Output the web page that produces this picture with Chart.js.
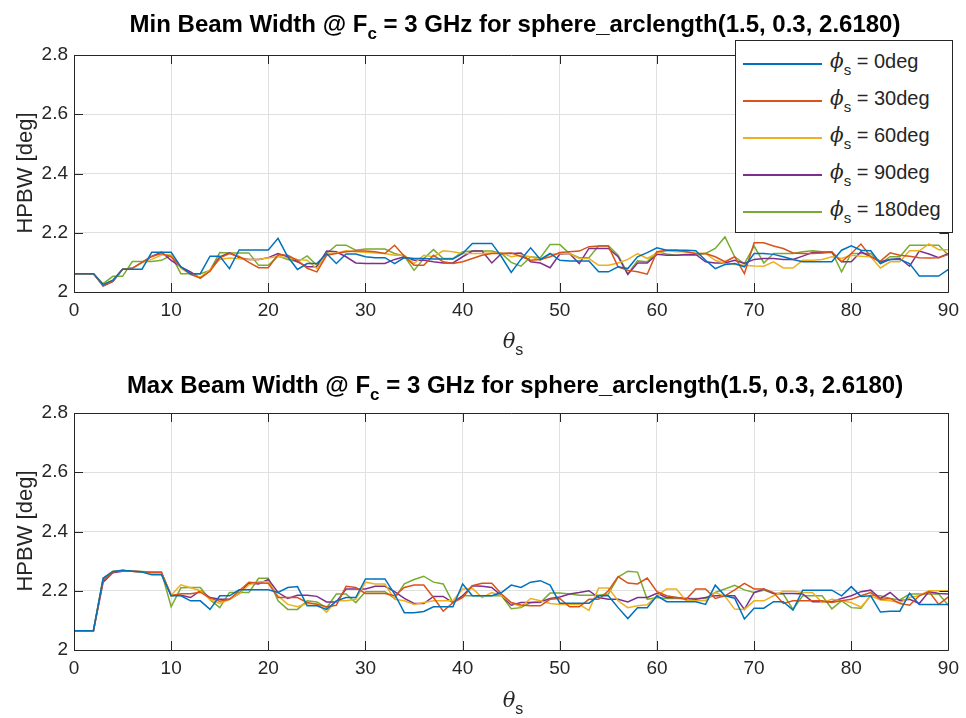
<!DOCTYPE html>
<html>
<head>
<meta charset="utf-8">
<script src="https://cdn.jsdelivr.net/npm/chart.js@4/dist/chart.umd.min.js"></script>
<style>
  body { margin: 0; background: #fff; font-family: "Liberation Sans", Arial, sans-serif; color: #262626; }
  #page { position: relative; width: 966px; height: 718px; overflow: hidden; }
  canvas { position: absolute; left: 0; }
  .title { position: absolute; left: 0; width: 1030px; text-align: center; font-weight: bold; font-size: 24px; line-height: 28px; color: #000; white-space: nowrap; }
  .title sub { font-size: 17px; vertical-align: -7px; line-height: 0; }
  .xlab { position: absolute; left: 0; width: 1026px; text-align: center; font-size: 22px; line-height: 26px; }
  .xlab i { font-family: "DejaVu Serif", serif; font-size: 21px; }
  .xlab sub { font-size: 16px; vertical-align: -7px; line-height: 0; }
  .ylab { position: absolute; font-size: 22px; line-height: 26px; transform: rotate(-90deg); transform-origin: center; white-space: nowrap; width: 200px; text-align: center; }
  #legend { position: absolute; left: 735px; top: 40px; width: 216px; height: 191px; border: 1px solid #262626; background: #fff; }
  .entry { position: absolute; left: 7px; width: 205px; height: 30px; font-size: 20px; white-space: nowrap; }
  .entry span.ln { position: absolute; left: 0; top: 15px; width: 79px; height: 2px; }
  .entry span.tx { position: absolute; left: 87px; top: 1px; }
  .entry i { font-family: "DejaVu Serif", serif; font-size: 20px; }
  .entry sub { font-size: 15px; vertical-align: -7px; line-height: 0; }
</style>
</head>
<body>
<div id="page">
  <canvas id="minChart" width="966" height="359" style="top:0"></canvas>
  <canvas id="maxChart" width="966" height="359" style="top:358px"></canvas>
  <div class="title" style="top:10px">Min Beam Width @ F<sub>c</sub> = 3 GHz for sphere_arclength(1.5, 0.3, 2.6180)</div>
  <div class="title" style="top:371px">Max Beam Width @ F<sub>c</sub> = 3 GHz for sphere_arclength(1.5, 0.3, 2.6180)</div>
  <div class="xlab" style="top:328px"><i>θ</i><sub>s</sub></div>
  <div class="xlab" style="top:687px"><i>θ</i><sub>s</sub></div>
  <div class="ylab" style="left:-75px; top:160px">HPBW [deg]</div>
  <div class="ylab" style="left:-75px; top:518px">HPBW [deg]</div>
  <div id="legend"></div>
</div>
<script>
// steering angle theta_s in degrees
const theta = [
  0,1,2,3,4,5,6,7,8,9,10,11,12,13,14,15,16,17,18,19,20,21,22,23,24,25,26,27,28,29,
  30,31,32,33,34,35,36,37,38,39,40,41,42,43,44,45,46,47,48,49,50,51,52,53,54,55,56,57,58,59,
  60,61,62,63,64,65,66,67,68,69,70,71,72,73,74,75,76,77,78,79,80,81,82,83,84,85,86,87,88,89,90
];
const phiLabels = ['0deg', '30deg', '60deg', '90deg', '180deg'];
const xTicks = [0, 10, 20, 30, 40, 50, 60, 70, 80, 90];
const yTicks = [2, 2.2, 2.4, 2.6, 2.8];

// minimum half-power beam width per phi_s
const minPhi0 = [
  2.062,2.062,2.062,2.025,2.040,2.077,2.077,2.077,2.134,2.134,
  2.134,2.085,2.062,2.062,2.121,2.121,2.079,2.142,2.142,2.142,
  2.142,2.181,2.119,2.076,2.096,2.096,2.130,2.096,2.128,2.128,
  2.119,2.116,2.116,2.096,2.116,2.113,2.113,2.111,2.111,2.111,
  2.130,2.164,2.164,2.164,2.119,2.066,2.110,2.149,2.110,2.130,
  2.107,2.105,2.105,2.105,2.068,2.068,2.085,2.079,2.119,2.133,
  2.149,2.141,2.141,2.141,2.139,2.107,2.079,2.093,2.096,2.085,
  2.130,2.130,2.127,2.119,2.110,2.102,2.102,2.102,2.102,2.141,
  2.156,2.141,2.139,2.096,2.110,2.110,2.096,2.054,2.054,2.054,
  2.076];
const minPhi30 = [
  2.062,2.062,2.062,2.022,2.036,2.077,2.080,2.100,2.120,2.130,
  2.119,2.085,2.060,2.047,2.070,2.115,2.130,2.120,2.100,2.082,
  2.082,2.126,2.124,2.107,2.080,2.068,2.124,2.130,2.136,2.138,
  2.138,2.136,2.130,2.158,2.121,2.090,2.090,2.124,2.102,2.096,
  2.102,2.113,2.124,2.130,2.130,2.132,2.120,2.107,2.110,2.119,
  2.133,2.136,2.138,2.153,2.155,2.155,2.085,2.073,2.068,2.060,
  2.136,2.141,2.141,2.136,2.130,2.130,2.119,2.102,2.119,2.062,
  2.166,2.166,2.155,2.147,2.132,2.130,2.130,2.132,2.136,2.102,
  2.130,2.162,2.119,2.104,2.132,2.124,2.121,2.116,2.115,2.116,
  2.127];
const minPhi60 = [
  2.062,2.062,2.062,2.025,2.040,2.077,2.080,2.100,2.110,2.125,
  2.125,2.080,2.060,2.050,2.075,2.110,2.115,2.112,2.110,2.110,
  2.115,2.120,2.115,2.110,2.107,2.079,2.130,2.132,2.139,2.136,
  2.134,2.132,2.130,2.124,2.124,2.096,2.124,2.119,2.139,2.136,
  2.130,2.130,2.130,2.132,2.132,2.119,2.124,2.119,2.107,2.127,
  2.130,2.130,2.113,2.113,2.090,2.090,2.098,2.110,2.130,2.113,
  2.132,2.139,2.136,2.136,2.130,2.130,2.107,2.096,2.093,2.090,
  2.088,2.087,2.102,2.081,2.081,2.107,2.107,2.110,2.119,2.113,
  2.124,2.121,2.119,2.081,2.102,2.102,2.139,2.139,2.162,2.143,
  2.143];
const minPhi90 = [
  2.062,2.062,2.062,2.020,2.036,2.077,2.080,2.100,2.120,2.135,
  2.107,2.085,2.068,2.047,2.073,2.119,2.132,2.116,2.110,2.110,
  2.116,2.130,2.119,2.102,2.085,2.085,2.138,2.136,2.119,2.098,
  2.096,2.096,2.096,2.110,2.119,2.107,2.107,2.102,2.098,2.098,
  2.119,2.138,2.138,2.098,2.130,2.130,2.132,2.102,2.098,2.082,
  2.128,2.130,2.096,2.147,2.147,2.147,2.119,2.059,2.098,2.098,
  2.127,2.124,2.124,2.127,2.127,2.102,2.098,2.098,2.107,2.096,
  2.110,2.113,2.113,2.110,2.110,2.121,2.133,2.133,2.133,2.102,
  2.102,2.136,2.119,2.102,2.110,2.113,2.087,2.138,2.128,2.116,
  2.130];
const minPhi180 = [
  2.062,2.062,2.062,2.028,2.053,2.053,2.103,2.103,2.103,2.107,
  2.124,2.062,2.062,2.062,2.073,2.133,2.132,2.132,2.132,2.090,
  2.090,2.121,2.110,2.102,2.122,2.090,2.130,2.158,2.158,2.141,
  2.145,2.145,2.145,2.130,2.121,2.073,2.113,2.143,2.113,2.113,
  2.136,2.138,2.138,2.138,2.130,2.100,2.087,2.119,2.116,2.160,
  2.160,2.130,2.116,2.116,2.156,2.156,2.124,2.062,2.105,2.102,
  2.136,2.128,2.124,2.124,2.124,2.130,2.147,2.186,2.119,2.096,
  2.155,2.098,2.130,2.130,2.130,2.136,2.139,2.136,2.136,2.068,
  2.130,2.130,2.130,2.096,2.119,2.119,2.158,2.158,2.158,2.158,
  2.124];

// maximum half-power beam width per phi_s
const maxPhi0 = [
  2.065,2.065,2.065,2.242,2.265,2.269,2.266,2.263,2.254,2.254,
  2.183,2.183,2.166,2.166,2.137,2.183,2.183,2.203,2.203,2.203,
  2.203,2.194,2.211,2.214,2.149,2.149,2.137,2.166,2.177,2.177,
  2.240,2.240,2.240,2.189,2.126,2.126,2.130,2.146,2.146,2.146,
  2.223,2.183,2.183,2.183,2.194,2.219,2.211,2.229,2.234,2.219,
  2.158,2.158,2.158,2.158,2.183,2.183,2.143,2.106,2.143,2.143,
  2.183,2.163,2.163,2.163,2.163,2.154,2.219,2.183,2.175,2.105,
  2.141,2.141,2.163,2.163,2.135,2.202,2.202,2.202,2.202,2.183,
  2.214,2.181,2.183,2.128,2.131,2.131,2.191,2.154,2.154,2.154,
  2.154];
const maxPhi30 = [
  2.065,2.065,2.065,2.235,2.262,2.268,2.266,2.264,2.262,2.262,
  2.183,2.190,2.190,2.195,2.175,2.165,2.171,2.200,2.229,2.226,
  2.225,2.177,2.177,2.177,2.160,2.154,2.146,2.151,2.215,2.211,
  2.191,2.191,2.191,2.183,2.211,2.219,2.219,2.177,2.131,2.160,
  2.177,2.217,2.225,2.225,2.189,2.160,2.152,2.149,2.149,2.171,
  2.174,2.146,2.146,2.171,2.171,2.200,2.248,2.226,2.223,2.243,
  2.197,2.183,2.177,2.171,2.206,2.206,2.174,2.183,2.203,2.225,
  2.206,2.206,2.194,2.157,2.166,2.166,2.166,2.166,2.160,2.166,
  2.171,2.183,2.194,2.171,2.174,2.157,2.151,2.183,2.197,2.154,
  2.179];
const maxPhi60 = [
  2.065,2.065,2.065,2.240,2.265,2.268,2.266,2.264,2.262,2.262,
  2.185,2.220,2.210,2.200,2.170,2.157,2.170,2.190,2.220,2.230,
  2.230,2.183,2.154,2.146,2.157,2.156,2.128,2.166,2.166,2.171,
  2.229,2.223,2.223,2.171,2.166,2.154,2.160,2.166,2.166,2.166,
  2.206,2.208,2.177,2.194,2.183,2.160,2.146,2.174,2.166,2.157,
  2.154,2.154,2.154,2.134,2.209,2.209,2.166,2.143,2.149,2.153,
  2.183,2.206,2.206,2.166,2.166,2.166,2.194,2.181,2.138,2.137,
  2.166,2.166,2.183,2.198,2.198,2.194,2.194,2.160,2.171,2.166,
  2.160,2.145,2.183,2.169,2.166,2.160,2.177,2.183,2.200,2.200,
  2.200];
const maxPhi90 = [
  2.065,2.065,2.065,2.229,2.261,2.266,2.266,2.264,2.262,2.262,
  2.185,2.185,2.177,2.200,2.177,2.171,2.171,2.190,2.226,2.223,
  2.238,2.194,2.174,2.185,2.185,2.181,2.162,2.162,2.206,2.206,
  2.206,2.215,2.215,2.197,2.174,2.157,2.157,2.181,2.181,2.160,
  2.183,2.217,2.215,2.211,2.183,2.151,2.160,2.160,2.162,2.174,
  2.179,2.189,2.194,2.200,2.177,2.171,2.171,2.162,2.177,2.177,
  2.191,2.177,2.177,2.174,2.171,2.177,2.183,2.183,2.183,2.137,
  2.194,2.206,2.191,2.191,2.191,2.189,2.163,2.163,2.163,2.174,
  2.183,2.197,2.202,2.174,2.194,2.166,2.171,2.157,2.197,2.191,
  2.189];
const maxPhi180 = [
  2.065,2.065,2.065,2.242,2.265,2.268,2.266,2.265,2.263,2.263,
  2.146,2.210,2.211,2.211,2.170,2.143,2.194,2.194,2.194,2.242,
  2.242,2.166,2.137,2.137,2.166,2.162,2.143,2.189,2.189,2.160,
  2.197,2.197,2.197,2.174,2.223,2.238,2.249,2.229,2.223,2.160,
  2.183,2.183,2.183,2.183,2.183,2.139,2.143,2.160,2.160,2.192,
  2.192,2.189,2.185,2.185,2.185,2.189,2.246,2.266,2.263,2.171,
  2.177,2.174,2.174,2.174,2.174,2.174,2.194,2.206,2.218,2.203,
  2.194,2.202,2.191,2.189,2.137,2.183,2.183,2.183,2.139,2.166,
  2.143,2.141,2.185,2.183,2.174,2.169,2.189,2.189,2.189,2.189,
  2.151];

const colors = ['#0072bd', '#d95319', '#edb120', '#7e2f8e', '#77ac30'];
const axisColor = '#262626';
const font = { family: '"Liberation Sans", Arial, sans-serif', size: 19 };

// MATLAB-like box with inward tick marks on all four sides
const boxTicks = {
  id: 'boxTicks',
  afterDraw(chart) {
    const { ctx, chartArea: a, scales: { x, y } } = chart;
    const len = 9;
    ctx.save();
    ctx.strokeStyle = axisColor;
    ctx.lineWidth = 1;
    ctx.beginPath();
    ctx.rect(Math.round(a.left) + 0.5, Math.round(a.top) + 0.5, Math.round(a.right - a.left), Math.round(a.bottom - a.top));
    x.ticks.forEach(t => {
      const px = Math.round(x.getPixelForValue(t.value)) + 0.5;
      ctx.moveTo(px, a.bottom); ctx.lineTo(px, a.bottom - len);
      ctx.moveTo(px, a.top); ctx.lineTo(px, a.top + len);
    });
    y.ticks.forEach(t => {
      const py = Math.round(y.getPixelForValue(t.value)) + 0.5;
      ctx.moveTo(a.left, py); ctx.lineTo(a.left + len, py);
      ctx.moveTo(a.right, py); ctx.lineTo(a.right - len, py);
    });
    ctx.stroke();
    ctx.restore();
  }
};

function makeChart(id, series) {
  new Chart(document.getElementById(id), {
    type: 'line',
    data: {
      datasets: series.map((vals, k) => ({
        label: phiLabels[k],
        data: theta.map((t, i) => ({ x: t, y: vals[i] })),
        borderColor: colors[k],
        borderWidth: 1.5,
        pointRadius: 0,
        tension: 0,
        fill: false
      }))
    },
    options: {
      responsive: false,
      animation: false,
      devicePixelRatio: 1,
      layout: { padding: { top: 55, right: 15, left: 0, bottom: 0 } },
      plugins: { legend: { display: false }, title: { display: false }, tooltip: { enabled: false } },
      scales: {
        x: {
          type: 'linear', min: 0, max: 90,
          afterFit(scale) { scale.height = 67; },
          afterBuildTicks(scale) { scale.ticks = xTicks.map(v => ({ value: v })); },
          ticks: { font, color: axisColor, padding: 7, maxRotation: 0 },
          grid: { color: '#e0e0e0', drawTicks: false, lineWidth: 1 },
          border: { display: false }
        },
        y: {
          min: 2, max: 2.8,
          afterFit(scale) { scale.width = 74; },
          afterBuildTicks(scale) { scale.ticks = yTicks.map(v => ({ value: v })); },
          ticks: { font, color: axisColor, padding: 6, callback: v => String(+v.toFixed(1)) },
          grid: { color: '#e0e0e0', drawTicks: false, lineWidth: 1 },
          border: { display: false }
        }
      }
    },
    plugins: [boxTicks]
  });
}

makeChart('minChart', [minPhi0, minPhi30, minPhi60, minPhi90, minPhi180]);
makeChart('maxChart', [maxPhi0, maxPhi30, maxPhi60, maxPhi90, maxPhi180]);

// legend entries with phi_s subscript
const legend = document.getElementById('legend');
phiLabels.forEach((lab, k) => {
  const e = document.createElement('div');
  e.className = 'entry';
  e.style.top = (7 + k * 37) + 'px';
  e.innerHTML = '<span class="ln" style="background:' + colors[k] + '"></span>' +
    '<span class="tx"><i>ϕ</i><sub>s</sub> = ' + lab + '</span>';
  legend.appendChild(e);
});
</script>
</body>
</html>
